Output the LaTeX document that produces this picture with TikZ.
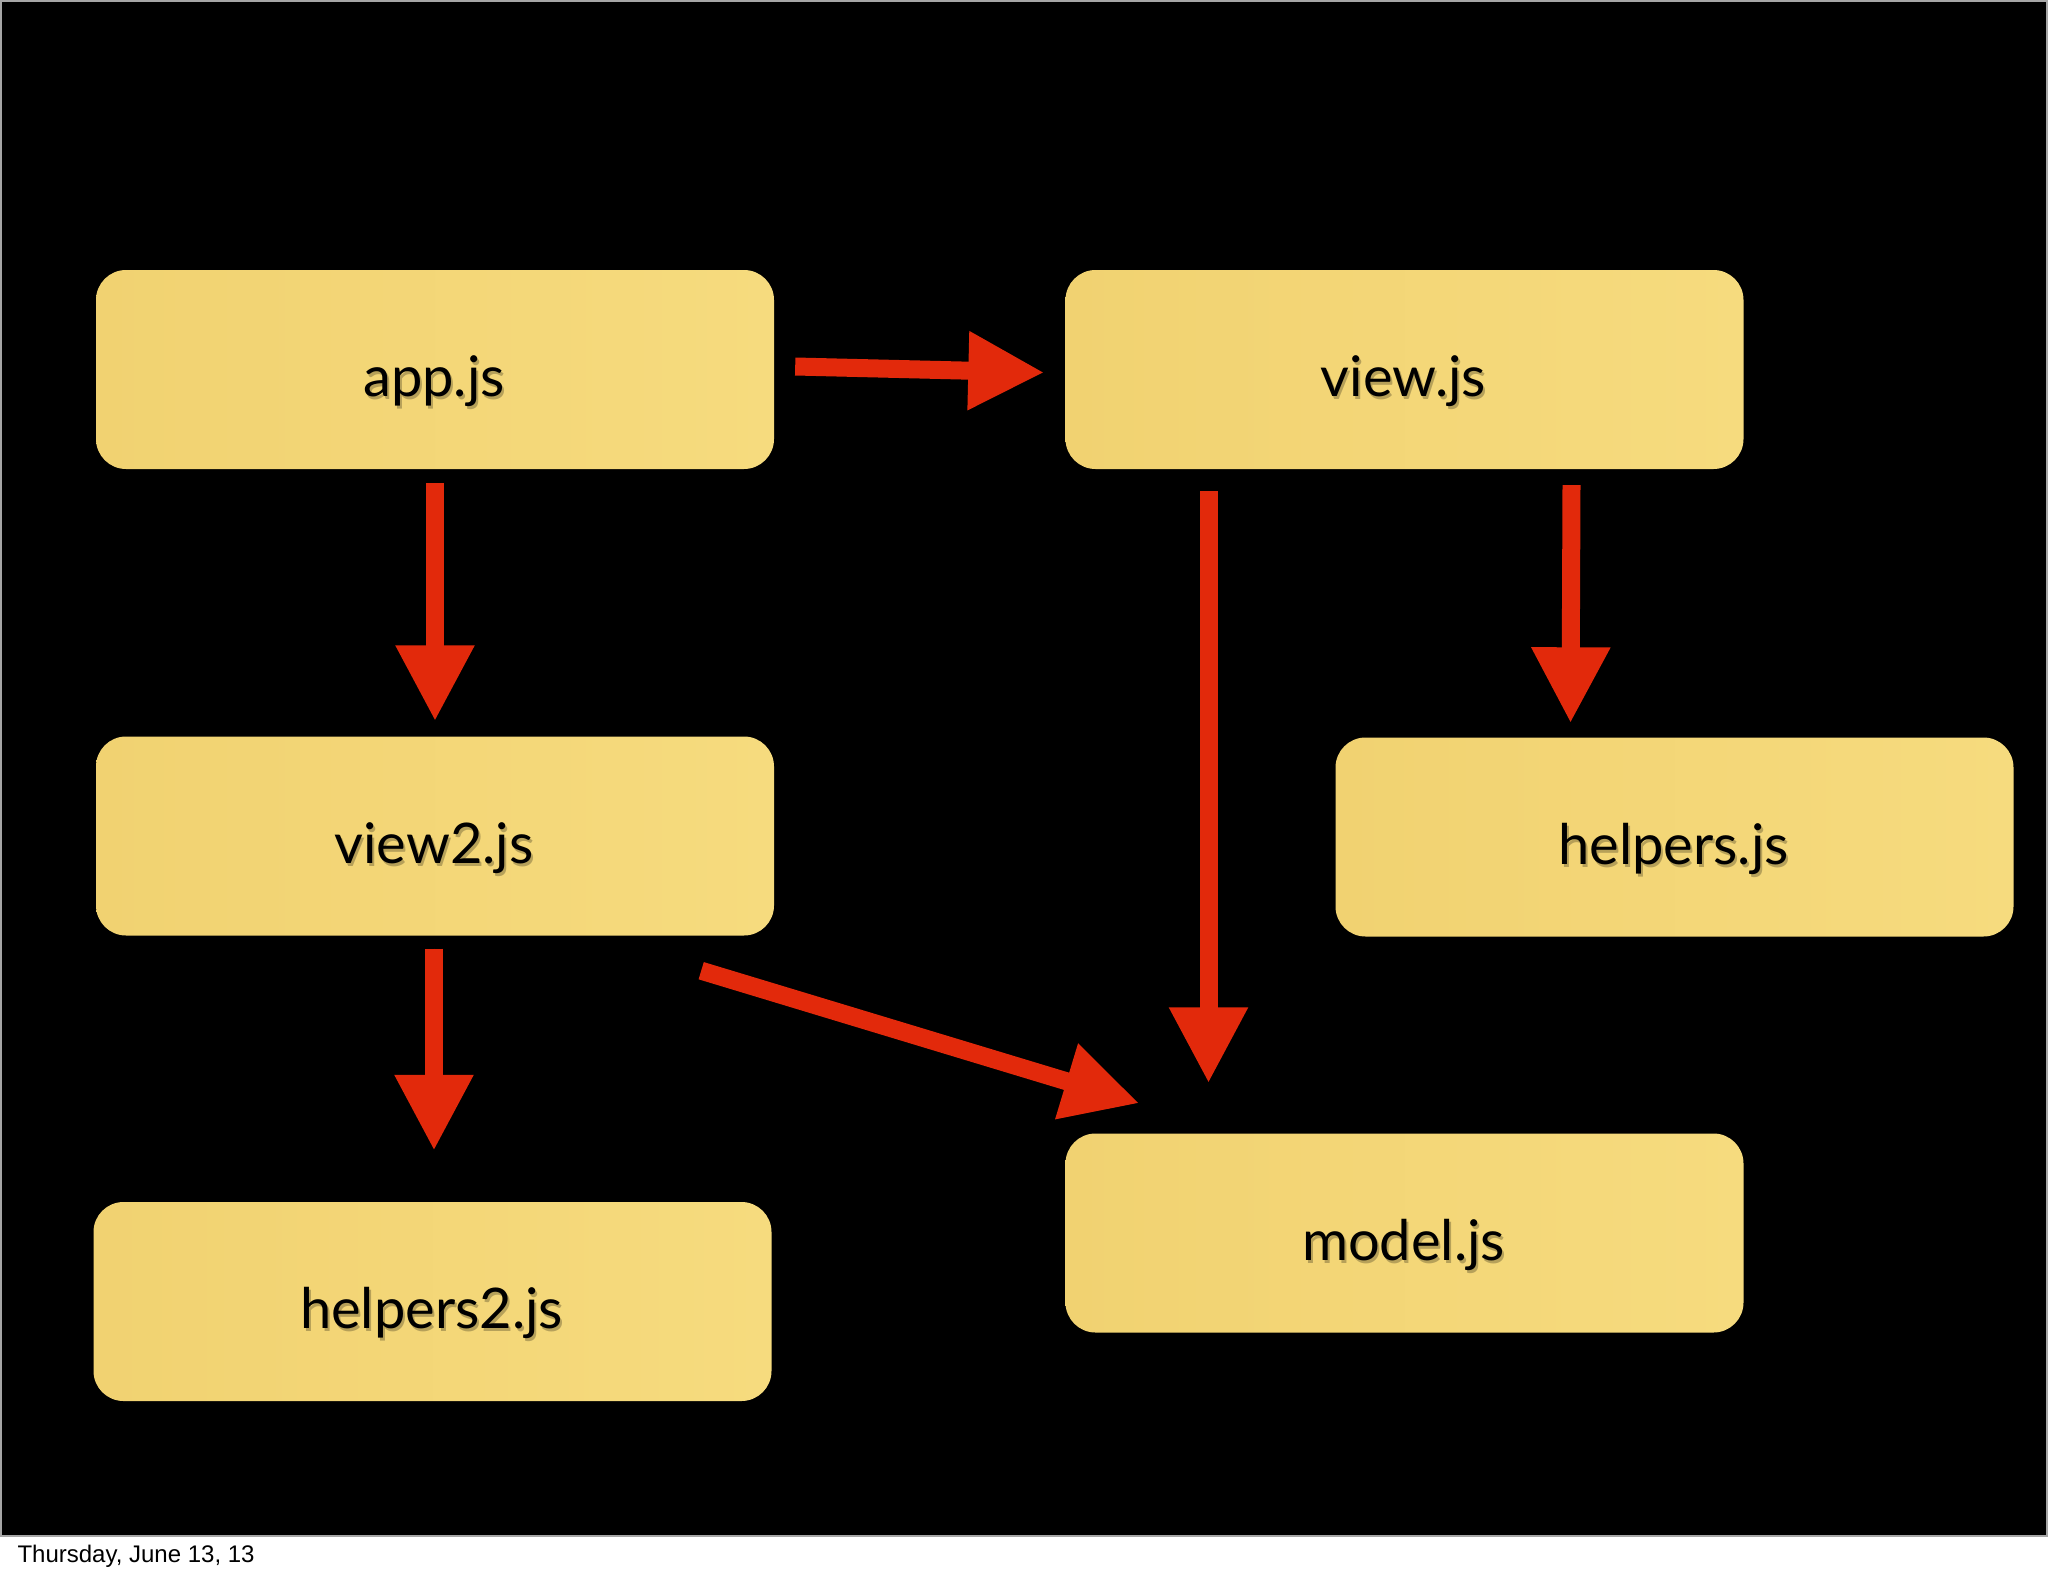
\documentclass[tikz,border=0pt]{standalone}
\usepackage{fontspec}
\setmainfont{Lato}
\newfontfamily\footfont{Liberation Sans}
\usetikzlibrary{arrows.meta,calc}
\definecolor{boxyellow}{HTML}{F6DB7E}
\definecolor{boxyellowdark}{HTML}{F1D271}
\definecolor{arrred}{HTML}{E2290B}
\newcommand\shadowedtext[1]{\raisebox{-27pt}[0pt][0pt]{\tikz[baseline=0pt]{%
  \node[inner sep=0pt, anchor=base, text=black, opacity=0.25] at (2pt,-3pt) {#1};%
  \node[inner sep=0pt, anchor=base, text=black] at (0pt,0pt) {#1};}}}
\begin{document}
\begin{tikzpicture}[x=1pt,y=-1pt,
  filebox/.style={rounded corners=30pt, minimum width=676pt, minimum height=199pt,
    inner sep=0pt, left color=boxyellowdark, right color=boxyellow,
    font=\fontsize{56}{60}\selectfont, text=black},
  arr/.style={draw=arrred, line width=18pt,
    -{Triangle[length=76pt,width=74pt]}, fill=arrred}
]
\useasboundingbox (0,0) rectangle (2048,1576);
\fill[white] (0,0) rectangle (2048,1576);
\fill[black] (0,0) rectangle (2048,1536);
\draw[gray!70, line width=2pt] (1,1) rectangle (2047,1536);

\node[filebox] (app) at (435,369.5) {\shadowedtext{app.js}};
\node[filebox] (view) at (1404.5,369.5) {\shadowedtext{view.js}};
\node[filebox] (view2) at (435,836) {\shadowedtext{view2.js}};
\node[filebox] (helpers) at (1674.5,837) {\shadowedtext{helpers.js}};
\node[filebox] (helpers2) at (432.5,1301.5) {\shadowedtext{helpers2.js}};
\node[filebox] (model) at (1404.5,1233) {\shadowedtext{model.js}};

% app -> view
\coordinate (s1) at ($(app.east)+(21,-3)$);
\coordinate (e1) at ($(view.west)+(-21,3)$);
\draw[arr] (s1) -- (e1);
% app -> view2
\coordinate (s2) at ($(app.south)+(0,14)$);
\coordinate (e2) at ($(view2.north)+(0,-15)$);
\draw[arr] (s2) -- (e2);
% view -> model
\coordinate (s3) at ($(view.south)+(-196,22)$);
\coordinate (e3) at ($(model.north)+(-196,-50)$);
\draw[arr] (s3) -- (e3);
% view -> helpers
\coordinate (s4) at ($(view.south)+(167,16)$);
\coordinate (e4) at ($(helpers.north)+(-104,-14)$);
\draw[arr] (s4) -- (e4);
% view2 -> helpers2
\coordinate (s5) at ($(view2.south)+(-1,13)$);
\coordinate (e5) at ($(helpers2.north)+(1.5,-51)$);
\draw[arr] (s5) -- (e5);
% view2 -> model
\coordinate (s6) at ($(view2.south east)+(-73,35)$);
\coordinate (e6) at ($(model.north west)+(74,-30)$);
\draw[arr] (s6) -- (e6);

\node[anchor=base west, font=\footfont\fontsize{24}{27}\selectfont, text=black] (foot) at (14,1562) {Thursday, June 13, 13};
\end{tikzpicture}
\end{document}
